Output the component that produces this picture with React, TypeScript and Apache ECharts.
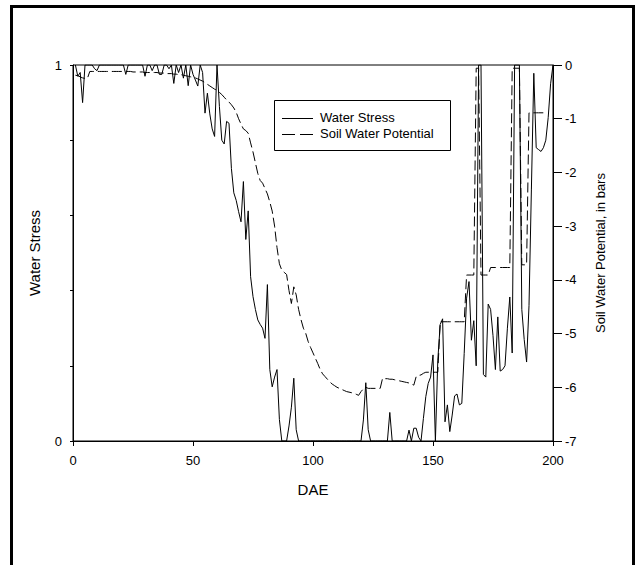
import React, { useEffect, useRef } from "react";
import * as echarts from "echarts";

// Days after emergence (DAE), one point per day
const firstDay = 1;

// Water Stress (left axis, 0..1), days 1..200
const waterStress = [
  1.0, 0.97, 0.98, 0.9, 1.0, 1.0, 1.0, 1.0, 0.99, 0.985,
  1.0, 1.0, 1.0, 1.0, 1.0, 1.0, 1.0, 1.0, 1.0, 1.0,
  1.0, 0.975, 1.0, 1.0, 1.0, 1.0, 1.0, 1.0, 1.0, 0.97,
  1.0, 1.0, 0.985, 1.0, 1.0, 0.975, 0.975, 1.0, 1.0, 0.99,
  1.0, 0.951, 1.0, 0.98, 1.0, 0.965, 1.0, 0.945, 1.0, 0.975,
  0.96, 0.944, 1.0, 0.98, 0.872, 0.925, 0.87, 0.83, 0.81, 1.0,
  0.89, 0.8, 0.79, 0.85, 0.845, 0.725, 0.66, 0.64, 0.61, 0.583,
  0.69, 0.536, 0.612, 0.437, 0.384, 0.35, 0.322, 0.31, 0.3, 0.273,
  0.416, 0.19, 0.144, 0.17, 0.19, 0.057, 0, 0, 0, 0.04,
  0.09, 0.167, 0.03, 0, 0, 0, 0, 0, 0, 0,
  0, 0, 0, 0, 0, 0, 0, 0, 0, 0,
  0, 0, 0, 0, 0, 0, 0, 0, 0, 0,
  0.056, 0.155, 0.03, 0, 0, 0, 0, 0, 0, 0,
  0, 0.076, 0, 0, 0, 0, 0, 0, 0, 0.029,
  0, 0.034, 0.034, 0.01, 0, 0.06, 0.118, 0.153, 0.17, 0.229,
  0, 0.215, 0.31, 0.325, 0.051, 0.096, 0.025, 0.069, 0.12, 0.125,
  0.096, 0.1, 0.233, 0.38, 0.424, 0.268, 0.32, 0.2, 1.0, 1.0,
  0.177, 0.17, 0.364, 0.35, 0.28, 0.19, 0.33, 0.186, 0.19, 0.2,
  0.3, 0.383, 0.234, 1.0, 1.0, 1.0, 0.35, 0.27, 0.21, 0.36,
  0.67, 0.978, 0.78, 0.775, 0.77, 0.78, 0.8, 0.86, 0.95, 1.0,
];

// Soil Water Potential in bars (right axis, -7..0), days 1..197
const soilWaterPotential = [
  -0.19, -0.2, -0.22, -0.24, -0.25, -0.25, -0.12, -0.12, -0.12, -0.12,
  -0.12, -0.12, -0.12, -0.12, -0.12, -0.12, -0.12, -0.12, -0.12, -0.12,
  -0.12, -0.12, -0.12, -0.12, -0.13, -0.13, -0.13, -0.13, -0.13, -0.14,
  -0.14, -0.14, -0.14, -0.14, -0.14, -0.15, -0.15, -0.15, -0.16, -0.16,
  -0.16, -0.17, -0.17, -0.18, -0.18, -0.19, -0.2, -0.21, -0.22, -0.23,
  -0.24, -0.26, -0.28, -0.3, -0.33, -0.36, -0.39, -0.42, -0.45, -0.47,
  -0.51, -0.55, -0.6, -0.65, -0.69, -0.74, -0.8, -0.88, -1.0, -1.1,
  -1.19, -1.22, -1.27, -1.45, -1.62, -1.82, -2.02, -2.15, -2.2, -2.3,
  -2.4, -2.55, -2.72, -3.0, -3.4, -3.7, -3.82, -3.86, -3.9, -4.2,
  -4.44, -4.13, -4.28, -4.55, -4.74, -4.9, -5.0, -5.15, -5.26, -5.36,
  -5.46, -5.56, -5.67, -5.75, -5.8, -5.85, -5.9, -5.94, -5.97, -6.0,
  -6.02, -6.04, -6.06, -6.08, -6.09, -6.1, -6.11, -6.13, -6.15, -6.08,
  -6.03, -6.0, -6.02, -6.02, -6.02, -6.02, -6.02, -6.02, -5.83, -5.84,
  -5.84, -5.85, -5.85, -5.86, -5.87, -5.88, -5.89, -5.9, -5.91, -5.92,
  -5.94, -5.96, -5.8, -5.78, -5.77, -5.74, -5.72, -5.72, -5.72, -5.72,
  -5.72, -5.72, -4.78, -4.78, -4.78, -4.78, -4.78, -4.78, -4.78, -4.78,
  -4.78, -4.78, -4.78, -3.91, -3.91, -3.91, -3.91, -0.06, -0.06, -3.91,
  -3.91, -3.91, -3.91, -3.77, -3.77, -3.77, -3.77, -3.77, -3.77, -3.77,
  -3.77, -3.77, -0.06, -0.06, -0.06, -0.06, -3.72, -3.72, -3.72, -0.89,
  -0.89, -0.89, -0.89, -0.89, -0.89, -0.89, -0.89,
];

const xTicks = { min: 0, max: 200, interval: 50 };
const leftTicks = { min: 0, max: 1, interval: 0.2, labelled: [0, 1] };
const rightTicks = { min: -7, max: 0, interval: 1 };

const seriesNames = ["Water Stress", "Soil Water Potential"];
const axisTitles = { x: "DAE", left: "Water Stress", right: "Soil Water Potential, in bars" };

const FONT = "'Liberation Sans', Arial, Helvetica, sans-serif";

export default function App() {
  const ref = useRef<HTMLDivElement>(null);

  useEffect(() => {
    if (!ref.current) return;
    const chart = echarts.init(ref.current, undefined, { renderer: "svg" });

    const wsData = waterStress.map((v, i) => [firstDay + i, v]);
    const swpData = soilWaterPotential.map((v, i) => [firstDay + i, v]);

    const axisLine = { show: true, lineStyle: { color: "#000", width: 1 } };
    const label = { color: "#000", fontSize: 13, fontFamily: FONT };

    const legendText = (text: string, y: number) => ({
      type: "text",
      left: 320,
      top: y - 7.5,
      style: { text, fill: "#000", font: `13px ${FONT}` },
      silent: true,
      z: 50,
    });

    chart.setOption({
      animation: false,
      backgroundColor: "#fff",
      textStyle: { fontFamily: FONT },
      grid: {
        left: 73,
        right: 83,
        top: 65,
        bottom: 124,
        show: true,
        borderColor: "#000",
        borderWidth: 1,
        backgroundColor: "transparent",
        containLabel: false,
      },
      xAxis: {
        type: "value",
        min: xTicks.min,
        max: xTicks.max,
        interval: xTicks.interval,
        axisLine,
        axisTick: { show: true, inside: false, length: 5, lineStyle: { color: "#000" } },
        axisLabel: { ...label, margin: 13 },
        splitLine: { show: false },
        name: axisTitles.x,
        nameLocation: "middle",
        nameGap: 41,
        nameTextStyle: { color: "#000", fontSize: 15, fontFamily: FONT },
      },
      yAxis: [
        {
          type: "value",
          position: "left",
          min: leftTicks.min,
          max: leftTicks.max,
          interval: leftTicks.interval,
          axisLine,
          axisTick: { show: true, inside: false, length: 3, lineStyle: { color: "#000" } },
          axisLabel: {
            ...label,
            margin: 11,
            formatter: (v: number) =>
              leftTicks.labelled.some((t) => Math.abs(t - v) < 1e-9) ? String(Math.round(v)) : "",
          },
          splitLine: { show: false },
          name: axisTitles.left,
          nameLocation: "middle",
          nameRotate: 90,
          nameGap: 31,
          nameTextStyle: { color: "#000", fontSize: 15, fontFamily: FONT },
        },
        {
          type: "value",
          position: "right",
          min: rightTicks.min,
          max: rightTicks.max,
          interval: rightTicks.interval,
          axisLine,
          axisTick: { show: true, inside: false, length: 9, lineStyle: { color: "#000" } },
          axisLabel: { ...label, margin: 12 },
          splitLine: { show: false },
          name: axisTitles.right,
          nameLocation: "middle",
          nameRotate: 90,
          nameGap: 41,
          nameTextStyle: { color: "#000", fontSize: 13, fontFamily: FONT },
        },
      ],
      series: [
        {
          name: seriesNames[0],
          type: "line",
          yAxisIndex: 0,
          data: wsData,
          symbol: "none",
          showSymbol: false,
          lineStyle: { color: "#000", width: 1 },
          itemStyle: { color: "#000" },
        },
        {
          name: seriesNames[1],
          type: "line",
          yAxisIndex: 1,
          data: swpData,
          symbol: "none",
          showSymbol: false,
          lineStyle: { color: "#000", width: 1, type: [10, 4] },
          itemStyle: { color: "#000" },
        },
      ],
      graphic: [
        {
          type: "rect",
          shape: { x: 274.5, y: 100.5, width: 176, height: 50 },
          style: { fill: "#fff", stroke: "#000", lineWidth: 1 },
          silent: true,
          z: 40,
        },
        {
          type: "line",
          shape: { x1: 282, y1: 118.5, x2: 313, y2: 118.5 },
          style: { stroke: "#000", lineWidth: 1 },
          silent: true,
          z: 50,
        },
        {
          type: "line",
          shape: { x1: 282, y1: 134.5, x2: 313, y2: 134.5 },
          style: { stroke: "#000", lineWidth: 1, lineDash: [13, 5] },
          silent: true,
          z: 50,
        },
        legendText(seriesNames[0], 118),
        legendText(seriesNames[1], 134),
        {
          type: "rect",
          shape: { x: 11.5, y: 6.5, width: 622, height: 620 },
          style: { fill: "none", stroke: "#000", lineWidth: 3 },
          silent: true,
          z: 100,
        },
      ],
    });

    return () => chart.dispose();
  }, []);

  return (
    <div
      ref={ref}
      style={{ position: "fixed", left: 0, top: 0, width: 636, height: 565 }}
    />
  );
}
